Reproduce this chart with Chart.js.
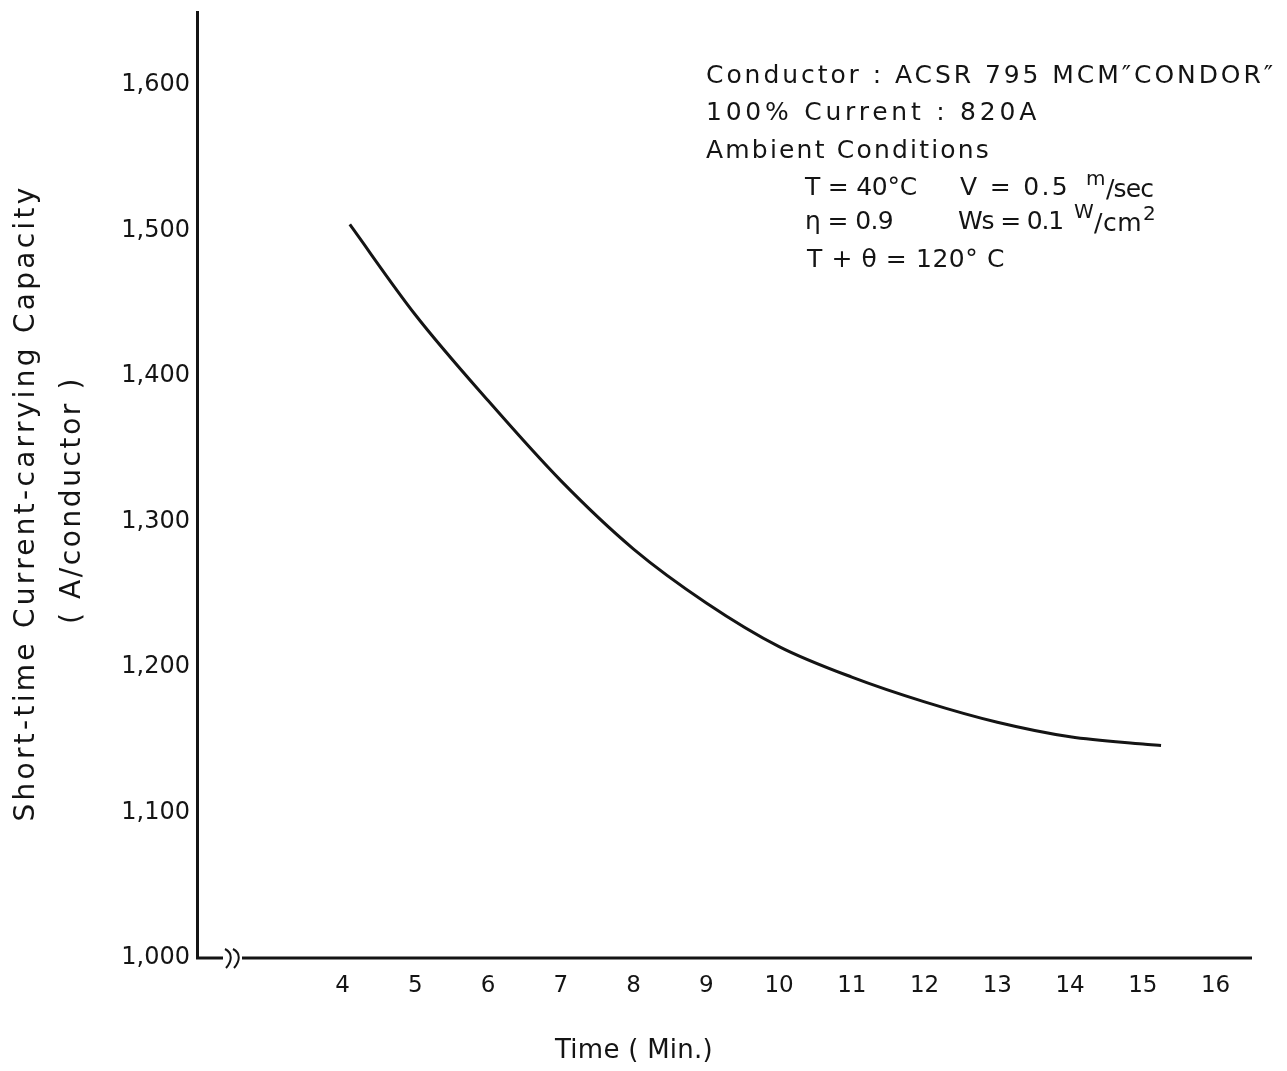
<!DOCTYPE html>
<html>
<head>
<meta charset="utf-8">
<title>Short-time Current-carrying Capacity</title>
<script src="https://cdn.jsdelivr.net/npm/chart.js@4.4.1/dist/chart.umd.min.js"></script>
<style>
  html, body { margin: 0; padding: 0; background: #fff; }
  #wrap { width: 1287px; height: 1071px; }
</style>
</head>
<body>
<div id="wrap"><canvas id="mycanvas" width="1287" height="1071"></canvas></div>
<script>
// Time after the step (minutes) and allowable current (A/conductor)
var times = [4.1, 5, 6, 7, 8, 9, 10, 11, 12, 13, 14, 15, 15.25];
var capacity = [1504, 1442, 1383, 1328, 1281, 1244, 1214, 1193, 1176, 1162, 1152, 1147, 1146];
// Axis ticks
var timeTicks = [4, 5, 6, 7, 8, 9, 10, 11, 12, 13, 14, 15, 16];
var capacityTicks = [1000, 1100, 1200, 1300, 1400, 1500, 1600];

var ink = '#141414';
var face = '"DejaVu Sans", "Liberation Sans", sans-serif';

// Draw a string stretched to a given width with letter spacing
function spaced(ctx, text, x, y, width)
{
	ctx.letterSpacing = '0px';
	var w = ctx.measureText(text).width;
	var gap = text.length > 1 ? (width - w) / text.length : 0;
	ctx.letterSpacing = gap + 'px';
	ctx.fillText(text, x, y);
	ctx.letterSpacing = '0px';
}

// X axis line with the "break" mark next to the origin
var axisBreak = {
	id: 'axisBreak',
	afterDraw: function(chart)
	{
		var ctx = chart.ctx;
		var a = chart.chartArea;
		var y = a.bottom;
		ctx.save();
		ctx.strokeStyle = ink;
		ctx.lineWidth = 3;
		ctx.beginPath();
		ctx.moveTo(a.left - 1, y);
		ctx.lineTo(a.left + 26, y);
		ctx.moveTo(a.left + 45, y);
		ctx.lineTo(a.right, y);
		ctx.stroke();
		ctx.lineWidth = 2;
		[a.left + 31, a.left + 39].forEach(function(x0)
		{
			ctx.beginPath();
			ctx.moveTo(x0 - 3, y - 9);
			ctx.bezierCurveTo(x0 + 5, y - 5, x0 + 4, y + 3, x0 - 2, y + 10);
			ctx.stroke();
		});
		ctx.restore();
	}
};

// Axis titles and the conditions block
var notes = {
	id: 'notes',
	afterDraw: function(chart)
	{
		var ctx = chart.ctx;
		ctx.save();
		ctx.fillStyle = ink;
		ctx.textBaseline = 'middle';
		ctx.textAlign = 'left';

		ctx.font = '25px ' + face;
		spaced(ctx, 'Conductor : ACSR 795 MCM\u2033CONDOR\u2033', 706, 76, 570);
		spaced(ctx, '100% Current : 820A', 706, 113, 334);
		spaced(ctx, 'Ambient Conditions', 706, 151, 285);

		spaced(ctx, 'T = 40\u00B0C', 805, 188, 112);
		spaced(ctx, 'V = 0.5', 960, 188, 110);
		spaced(ctx, '/sec', 1106, 190, 47);
		spaced(ctx, '\u03B7 = 0.9', 805, 222, 88);
		spaced(ctx, 'Ws = 0.1', 958, 222, 105);
		spaced(ctx, '/cm', 1094, 224, 48);
		spaced(ctx, 'T + \u03B8 = 120\u00B0 C', 807, 260, 198);

		ctx.font = '20px ' + face;
		spaced(ctx, 'm', 1086, 180, 20);
		spaced(ctx, 'W', 1074, 213, 19);
		spaced(ctx, '2', 1143, 215, 12);

		ctx.font = '26px ' + face;
		spaced(ctx, 'Time ( Min.)', 555, 1051, 158);

		ctx.font = '28px ' + face;
		ctx.textAlign = 'center';
		ctx.translate(27, 503);
		ctx.rotate(-Math.PI / 2);
		spaced(ctx, 'Short-time Current-carrying Capacity', 0, 0, 637);
		ctx.rotate(Math.PI / 2);
		ctx.translate(46, -3);
		ctx.rotate(-Math.PI / 2);
		spaced(ctx, '( A/conductor )', 0, 0, 248);
		ctx.restore();
	}
};

var points = [];
for (var i = 0; i < times.length; i++)
{
	points.push({ x: times[i], y: capacity[i] });
}

var ctx = document.getElementById('mycanvas');
var lineGraph = new Chart(ctx,
{
	type: 'line',
	data:
	{
		datasets: [{
			data: points,
			borderColor: ink,
			borderWidth: 3,
			pointRadius: 0,
			cubicInterpolationMode: 'monotone',
			fill: false
		}]
	},
	options:
	{
		responsive: false,
		animation: false,
		layout: { padding: { top: 12, right: 35, left: 0, bottom: 0 } },
		plugins: { legend: { display: false }, tooltip: { enabled: false } },
		scales:
		{
			x:
			{
				type: 'linear',
				min: 2,
				max: 16.5,
				grid: { display: false, drawTicks: false },
				border: { display: false },
				afterBuildTicks: function(scale)
				{
					scale.ticks = timeTicks.map(function(v) { return { value: v }; });
				},
				afterFit: function(scale)
				{
					scale.height = 113;
					scale.paddingLeft = 0;
					scale.paddingRight = 0;
				},
				ticks:
				{
					color: ink,
					padding: 14,
					maxRotation: 0,
					autoSkip: false,
					font: { family: face, size: 23 },
					callback: function(v) { return String(v); }
				}
			},
			y:
			{
				min: 1000,
				max: 1650,
				grid: { display: false, drawTicks: false },
				border: { display: true, color: ink, width: 3 },
				afterBuildTicks: function(scale)
				{
					scale.ticks = capacityTicks.map(function(v) { return { value: v }; });
				},
				afterFit: function(scale)
				{
					scale.width = 197;
					scale.paddingTop = 0;
					scale.paddingBottom = 0;
				},
				ticks:
				{
					color: ink,
					padding: 7,
					font: { family: face, size: 24 },
					callback: function(v) { return v.toLocaleString('en-US'); }
				}
			}
		}
	},
	plugins: [axisBreak, notes]
});
</script>
</body>
</html>
